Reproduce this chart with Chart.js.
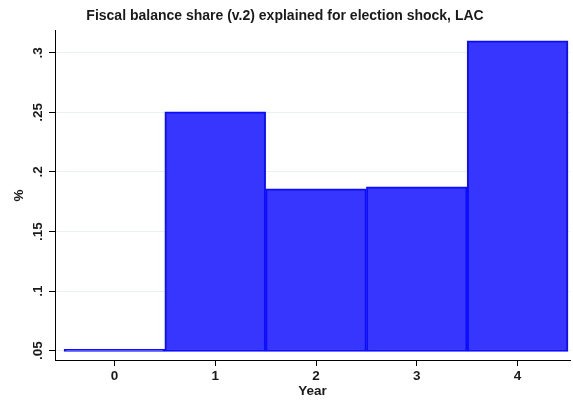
<!DOCTYPE html>
<html>
<head>
<meta charset="utf-8">
<script src="https://cdn.jsdelivr.net/npm/chart.js@4/dist/chart.umd.min.js"></script>
<style>
  html, body { margin: 0; padding: 0; background: #fff; }
  #wrap { width: 573px; height: 402px; }
</style>
</head>
<body>
<div id="wrap"><canvas id="chart"></canvas></div>
<script>
// --- Data ---
const years = [0, 1, 2, 3, 4];
const shareValues = [0.0512, 0.2505, 0.1859, 0.1876, 0.3101];
const barBase = 0.0493;
const yTicks = [0.05, 0.1, 0.15, 0.2, 0.25, 0.3];
const yTickLabels = ['.05', '.1', '.15', '.2', '.25', '.3'];
const xTicks = [0, 1, 2, 3, 4];

const FONT = "'Liberation Sans', Arial, Helvetica, sans-serif";
const TXT = '#1a1a1a';

// rotated y tick labels, Stata style
const yLabelPlugin = {
  id: 'yLabels',
  afterDraw(chart) {
    const ctx = chart.ctx;
    const y = chart.scales.y;
    ctx.save();
    ctx.fillStyle = TXT;
    ctx.font = 'bold 13.5px ' + FONT;
    ctx.textAlign = 'center';
    ctx.textBaseline = 'middle';
    yTicks.forEach((v, i) => {
      ctx.save();
      ctx.translate(38, y.getPixelForValue(v));
      ctx.rotate(-Math.PI / 2);
      ctx.fillText(yTickLabels[i], 0, 0);
      ctx.restore();
    });
    ctx.restore();
  }
};

new Chart(document.getElementById('chart'), {
  type: 'bar',
  data: {
    datasets: [{
      data: years.map((yr, i) => ({ x: yr, y: [barBase, shareValues[i]] })),
      backgroundColor: '#3636ff',
      borderColor: '#0c0cff',
      borderWidth: 2,
      borderSkipped: false,
      barPercentage: 1,
      categoryPercentage: 1
    }]
  },
  options: {
    responsive: true,
    maintainAspectRatio: false,
    animation: false,
    layout: { padding: { left: 0, right: 3, top: 0, bottom: 0 } },
    plugins: {
      legend: { display: false },
      tooltip: { enabled: false },
      title: {
        display: true,
        text: 'Fiscal balance share (v.2) explained for election shock, LAC',
        color: TXT,
        font: { family: FONT, size: 14, weight: 'bold' },
        padding: { top: 8, bottom: 6 }
      }
    },
    scales: {
      x: {
        type: 'linear',
        min: -0.59,
        max: 4.52,
        offset: false,
        afterBuildTicks: s => { s.ticks = xTicks.map(v => ({ value: v })); },
        afterFit: s => { s.height = 42; },
        grid: { offset: false, drawOnChartArea: false, drawTicks: true, tickLength: 6, tickColor: '#000' },
        border: { color: '#000', width: 1 },
        ticks: { color: TXT, font: { family: FONT, size: 13.5, weight: 'bold' }, padding: 2 },
        title: {
          display: true, text: 'Year', color: TXT,
          font: { family: FONT, size: 13.5, weight: 'bold' }, padding: { top: 0, bottom: 3 }
        }
      },
      y: {
        min: 0.0422,
        max: 0.3185,
        afterBuildTicks: s => { s.ticks = yTicks.map(v => ({ value: v })); },
        afterFit: s => { s.width = 55; },
        grid: { color: '#e8f0f0', lineWidth: 1, drawTicks: true, tickLength: 6, tickColor: '#000' },
        border: { color: '#000', width: 1 },
        ticks: { display: false },
        title: {
          display: true, text: '%', color: TXT,
          font: { family: FONT, size: 13.5, weight: 'bold' }, padding: { top: 11, bottom: 0 }
        }
      }
    }
  },
  plugins: [yLabelPlugin]
});
</script>
</body>
</html>
